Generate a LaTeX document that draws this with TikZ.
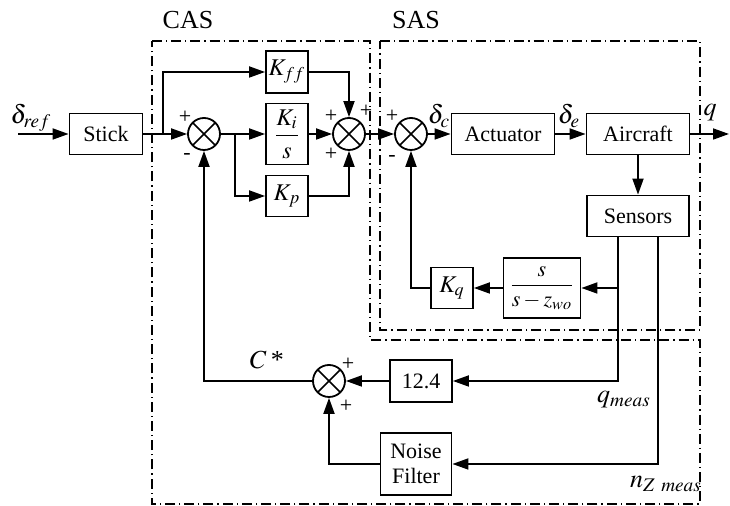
\documentclass[tikz,border=0pt]{standalone}
\usepackage{mathptmx}
\usepackage{fontspec}
\setmainfont{Liberation Serif}
\usetikzlibrary{arrows.meta,positioning,calc}

\begin{document}
\begin{tikzpicture}[x=0.5pt,y=-0.5pt,line width=0.9pt,
  blk/.style={draw, rectangle, inner sep=0pt, align=center, font=\fontsize{11}{12.5}\selectfont},
  mth/.style={font=\fontsize{12}{14}\selectfont},
  sumj/.style={draw, circle, minimum size=16pt, inner sep=0pt,
    path picture={\draw[line width=0.8pt] (path picture bounding box.north west) -- (path picture bounding box.south east)
      (path picture bounding box.north east) -- (path picture bounding box.south west);}},
  sig/.style={-{Triangle[length=8pt,width=5.5pt]}},
  sgn/.style={inner sep=0pt, font=\fontsize{11}{11}\selectfont},
  lbl/.style={inner sep=0pt, font=\fontsize{13}{15}\selectfont},
  grp/.style={line width=0.7pt, dash pattern=on 5pt off 2pt on 0.6pt off 2pt}]
\useasboundingbox (0,0) rectangle (730,506);
% CAS and SAS regions
\draw[grp] (152,41) -- (370,41) -- (370,340) -- (700,340) -- (700,504) -- (152,504) -- cycle;
\draw[grp] (380,41) -- (700,41) -- (700,330) -- (380,330) -- cycle;
\node[lbl] (cas) at (188,20) {CAS};
\node[lbl] (sas) at (416,20) {SAS};

% forward path
\coordinate (in) at (18,134);
\node[blk, minimum width=36.5pt, minimum height=20.5pt] (stick) at (106,134) {Stick};
\node[sumj] (s1) at (204,134) {};
\node[blk, mth, minimum width=21pt, minimum height=21pt] (kff) at (287,72) {$K_{ff}$};
\node[blk, mth, minimum width=21pt, minimum height=30.5pt] (ki) at (287,134) {$\displaystyle\frac{K_i}{s}$};
\node[blk, mth, minimum width=21pt, minimum height=20.5pt] (kp) at (287,196) {$K_p$};
\node[sumj] (s2) at (349,134) {};
\node[sumj] (s3) at (411,134) {};
\node[blk, minimum width=51.5pt, minimum height=20.5pt] (act) at (503,134) {Actuator};
\node[blk, minimum width=51.5pt, minimum height=20.5pt] (ac) at (638,134) {Aircraft};
\coordinate (out) at (729,134);

% inner loop
\node[blk, minimum width=51pt, minimum height=20.5pt] (sens) at (638,216) {Sensors};
\node[blk, minimum width=38.5pt, minimum height=30pt] (hpf) at (542,288) {$\displaystyle\frac{s}{s-z_{wo}}$};
\node[blk, mth, minimum width=21pt, minimum height=20.5pt] (kq) at (452,288) {$K_q$};

% outer loop
\node[sumj] (s4) at (329,381) {};
\node[blk, minimum width=31pt, minimum height=21pt] (gain) at (421,381) {12.4};
\node[blk, minimum width=35.5pt, minimum height=31pt] (nf) at (416,464) {Noise\\Filter};
\coordinate (qm) at ([xshift=-10pt]sens.south);
\coordinate (nz) at ([xshift=10pt]sens.south);
\coordinate (b1) at (163,134);
\coordinate (b2) at (235,134);

\draw[sig] (in) -- (stick);
\draw[sig] (stick) -- (s1);
\draw[sig] (b1) |- (kff);
\draw[sig] (s1) -- (ki);
\draw[sig] (b2) |- (kp);
\draw[sig] (kff) -| (s2);
\draw[sig] (ki) -- (s2);
\draw[sig] (kp) -| (s2);
\draw[sig] (s2) -- (s3);
\draw[sig] (s3) -- (act);
\draw[sig] (act) -- (ac);
\draw[sig] (ac) -- (out);
\draw[sig] (ac) -- (sens);
\draw[sig] (qm) |- (gain);
\draw[sig] (qm |- hpf) -- (hpf);
\draw[sig] (hpf) -- (kq);
\draw[sig] (kq) -| (s3);
\draw[sig] (nz) |- (nf);
\draw[sig] (gain) -- (s4);
\draw[sig] (nf) -| (s4);
\draw[sig] (s4) -| (s1);

% signs
\node[sgn] at ($(s1)+(-19,-17)$) {+};
\node[sgn] at ($(s1)+(-17,23)$) {-};
\node[sgn] at ($(s2)+(-18,-18)$) {+};
\node[sgn] at ($(s2)+(-18,20)$) {+};
\node[sgn] at ($(s2)+(17,-23)$) {+};
\node[sgn] at ($(s3)+(-19,-18)$) {+};
\node[sgn] at ($(s3)+(-19,25)$) {-};
\node[sgn] at ($(s4)+(19,-17)$) {+};
\node[sgn] at ($(s4)+(17,25)$) {+};

% signal names
\node[lbl] (dref) at (31,118) {$\delta_{ref}$};
\node[lbl] (dc) at (439,116) {$\delta_c$};
\node[lbl] (de) at (569,116) {$\delta_e$};
\node[lbl] (q) at (710,113) {$q$};
\node[lbl] (cstar) at (267,360) {$C$\,*};
\node[lbl] (qmeas) at (624,400) {$q_{meas}$};
\node[lbl] (nzm) at (666,484) {$n_{Z\ meas}$};
\end{tikzpicture}
\end{document}
